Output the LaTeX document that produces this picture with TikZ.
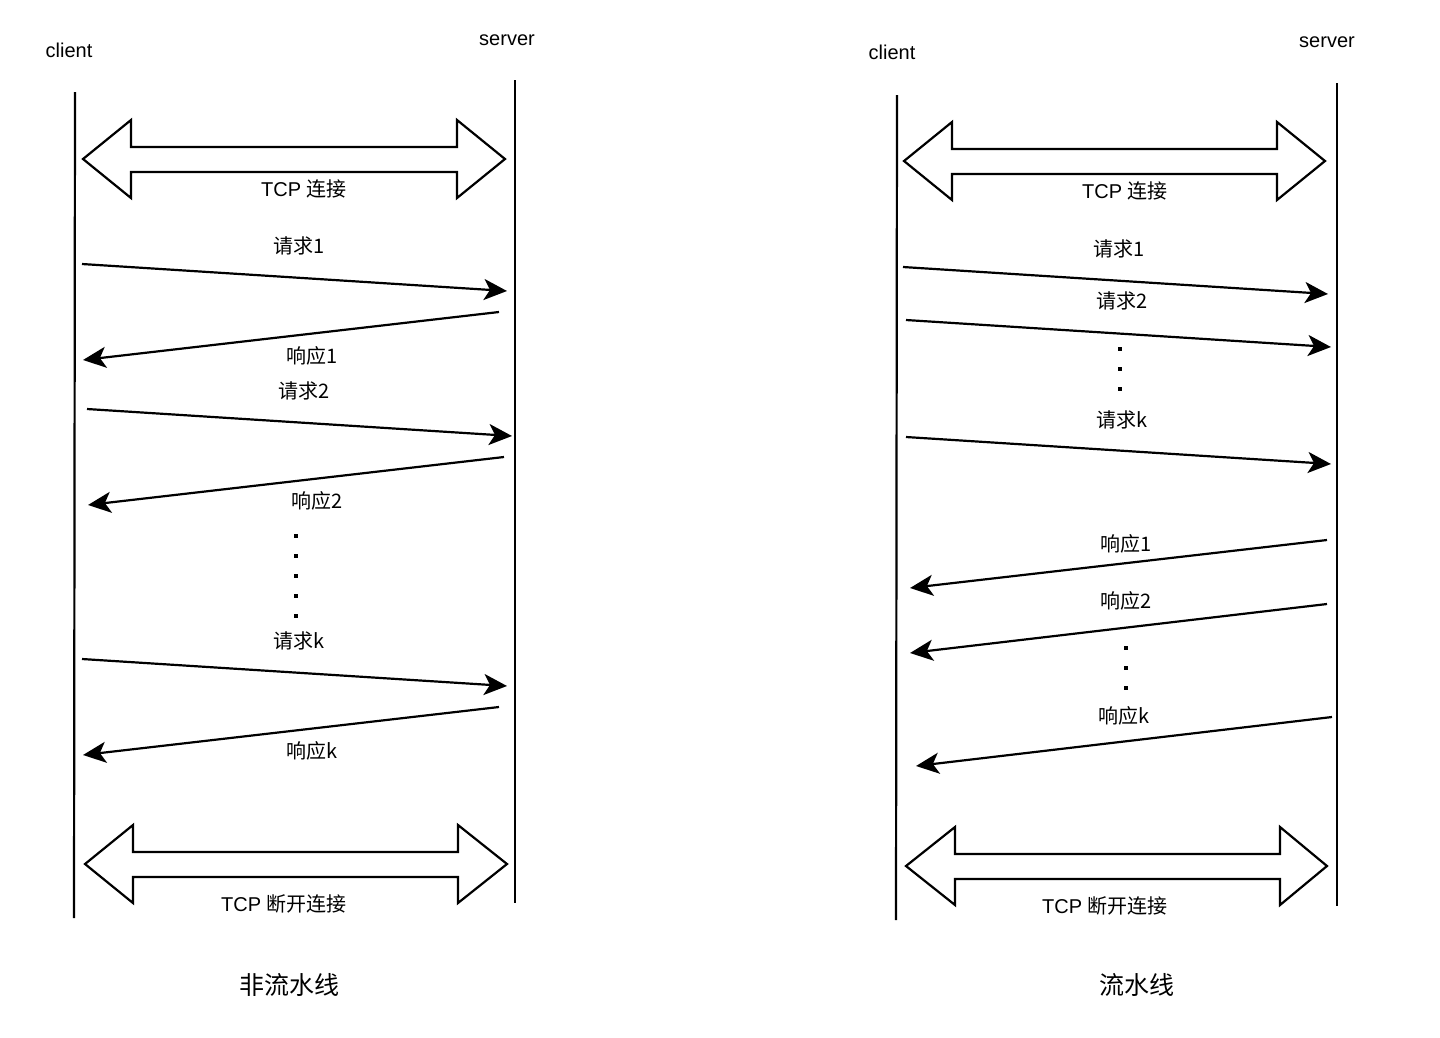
\documentclass[tikz,border=0pt]{standalone}
\usepackage{fontspec}
\setmainfont{Liberation Sans}
\newfontfamily\cjk{Noto Sans CJK SC}
\usetikzlibrary{arrows.meta}
\begin{document}
\begin{tikzpicture}[x=1pt,y=-1pt,
  lifeline/.style={line width=2.2pt},
  msg/.style={line width=2.2pt,-{Stealth[length=23pt,width=21pt,inset=6pt]}},
  lbl/.style={font=\fontsize{20}{22}\selectfont, inner sep=0pt},
  ttl/.style={font=\fontsize{25}{28}\selectfont\cjk, inner sep=0pt},
  dotmark/.style={fill=black, minimum size=4.5pt, inner sep=0pt},
  band/.style={line width=2.2pt, fill=white, line join=miter}]
\useasboundingbox (0,0) rectangle (1440,1037);

% ---------------- non-pipelined ----------------
\node[lbl] (c1) at (69,50) {client};
\node[lbl] (s1) at (507,40) {server};
\coordinate (c1t) at (75,92);  \coordinate (c1b) at (74,918);
\coordinate (s1t) at (515,80); \coordinate (s1b) at (515,903);
\draw[lifeline] (c1t) -- (c1b);
\draw[lifeline] (s1t) -- (s1b);

\draw[band] (83,159) -- (131,120) -- (131,147) -- (457,147) -- (457,120) -- (505,159)
  -- (457,198) -- (457,172) -- (131,172) -- (131,198) -- cycle;
\node[lbl] (open1) at (304,189) {TCP {\cjk 连接}};

\coordinate (a1) at (82,264);  \coordinate (b1) at (507,291);
\draw[msg] (a1) -- (b1);
\node[lbl] (q1) at (299,246) {\cjk 请求1};
\coordinate (a2) at (499,312); \coordinate (b2) at (83,360);
\draw[msg] (a2) -- (b2);
\node[lbl] (r1) at (312,356) {\cjk 响应1};

\coordinate (a3) at (87,409);  \coordinate (b3) at (512,436);
\draw[msg] (a3) -- (b3);
\node[lbl] (q2) at (304,391) {\cjk 请求2};
\coordinate (a4) at (504,457); \coordinate (b4) at (88,505);
\draw[msg] (a4) -- (b4);
\node[lbl] (r2) at (317,501) {\cjk 响应2};

\foreach \y [count=\i] in {536,556,576,596,616}
  \node[dotmark] (ld\i) at (296,\y) {};

\coordinate (a5) at (82,659);  \coordinate (b5) at (507,686);
\draw[msg] (a5) -- (b5);
\node[lbl] (qk) at (299,641) {\cjk 请求k};
\coordinate (a6) at (499,707); \coordinate (b6) at (83,755);
\draw[msg] (a6) -- (b6);
\node[lbl] (rk) at (312,751) {\cjk 响应k};

\draw[band] (85,864) -- (133,825) -- (133,852) -- (458,852) -- (458,825) -- (507,864)
  -- (458,903) -- (458,877) -- (133,877) -- (133,903) -- cycle;
\node[lbl] (close1) at (284,904) {TCP {\cjk 断开连接}};

\node[ttl] (t1) at (289,985) {非流水线};

% ---------------- pipelined ----------------
\node[lbl] (c2) at (892,52) {client};
\node[lbl] (s2) at (1327,42) {server};
\coordinate (c2t) at (897,95);  \coordinate (c2b) at (896,920);
\coordinate (s2t) at (1337,83); \coordinate (s2b) at (1337,906);
\draw[lifeline] (c2t) -- (c2b);
\draw[lifeline] (s2t) -- (s2b);

\draw[band] (904,161) -- (952,122) -- (952,149) -- (1277,149) -- (1277,122) -- (1325,161)
  -- (1277,200) -- (1277,174) -- (952,174) -- (952,200) -- cycle;
\node[lbl] (open2) at (1125,191) {TCP {\cjk 连接}};

\coordinate (p1) at (903,267);  \coordinate (e1) at (1328,294);
\draw[msg] (p1) -- (e1);
\node[lbl] (pq1) at (1119,249) {\cjk 请求1};
\coordinate (p2) at (906,320);  \coordinate (e2) at (1331,347);
\draw[msg] (p2) -- (e2);
\node[lbl] (pq2) at (1122,301) {\cjk 请求2};
\foreach \y [count=\i] in {349,369,389}
  \node[dotmark] (rd\i) at (1120,\y) {};
\coordinate (p3) at (906,437);  \coordinate (e3) at (1331,464);
\draw[msg] (p3) -- (e3);
\node[lbl] (pqk) at (1122,420) {\cjk 请求k};

\coordinate (p4) at (1327,540); \coordinate (e4) at (910,588);
\draw[msg] (p4) -- (e4);
\node[lbl] (pr1) at (1126,544) {\cjk 响应1};
\coordinate (p5) at (1327,604); \coordinate (e5) at (910,653);
\draw[msg] (p5) -- (e5);
\node[lbl] (pr2) at (1126,601) {\cjk 响应2};
\foreach \y [count=\i] in {648,668,688}
  \node[dotmark] (sd\i) at (1126,\y) {};
\coordinate (p6) at (1332,717); \coordinate (e6) at (916,766);
\draw[msg] (p6) -- (e6);
\node[lbl] (prk) at (1124,716) {\cjk 响应k};

\draw[band] (906,866) -- (955,827) -- (955,854) -- (1280,854) -- (1280,827) -- (1327,866)
  -- (1280,905) -- (1280,879) -- (955,879) -- (955,905) -- cycle;
\node[lbl] (close2) at (1105,906) {TCP {\cjk 断开连接}};

\node[ttl] (t2) at (1137,985) {流水线};
\end{tikzpicture}
\end{document}
